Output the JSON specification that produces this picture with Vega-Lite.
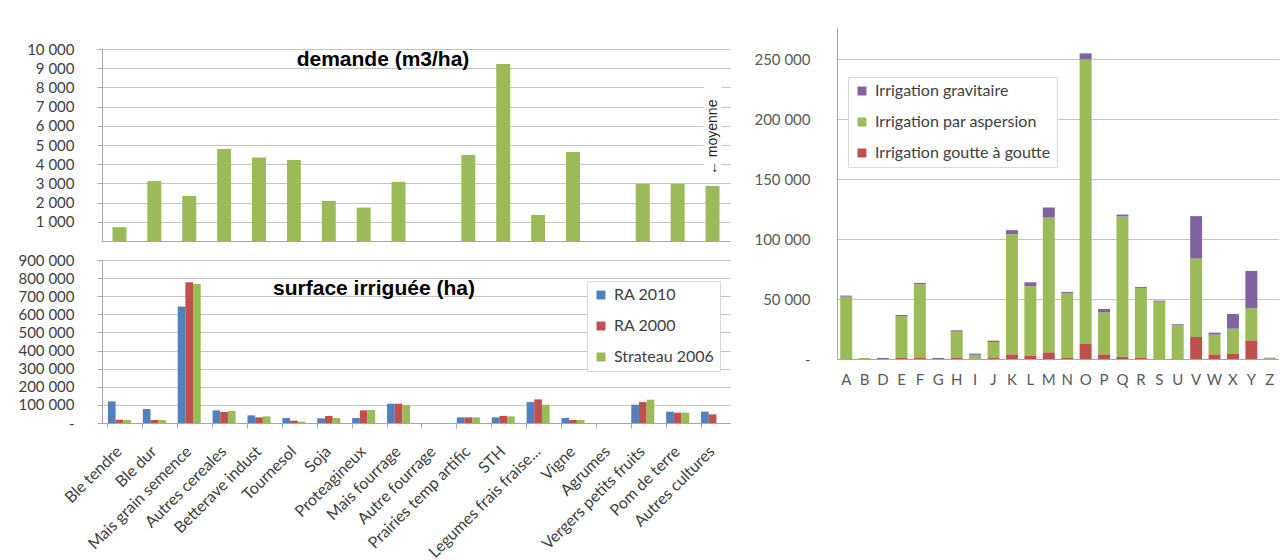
{
  "$schema": "https://vega.github.io/schema/vega-lite/v6.json",
  "padding": {"left": 17, "top": 27, "right": 0, "bottom": 0},
  "background": "white",
  "bounds": "full",
  "spacing": 23,
  "resolve": {"scale": {"color": "independent"}},
  "config": {
    "view": {"stroke": null},
    "axis": {"labelFont": "Lato", "labelFontSize": 15, "labelColor": "#404040", "gridColor": "#c4c4c4", "domainColor": "#a6a6a6", "tickColor": "#a6a6a6", "labelOverlap": false},
    "legend": {"labelFont": "Lato", "labelFontSize": 16, "labelColor": "#404040"}
  },
  "datasets": {
    "demande": [
      {"culture": "Ble tendre", "demande": 720},
      {"culture": "Ble dur", "demande": 3120},
      {"culture": "Mais grain semence", "demande": 2350},
      {"culture": "Autres cereales", "demande": 4790},
      {"culture": "Betterave indust", "demande": 4350},
      {"culture": "Tournesol", "demande": 4220},
      {"culture": "Soja", "demande": 2090},
      {"culture": "Proteagineux", "demande": 1740},
      {"culture": "Mais fourrage", "demande": 3080},
      {"culture": "Prairies temp artific", "demande": 4480},
      {"culture": "STH", "demande": 9220},
      {"culture": "Legumes frais fraise...", "demande": 1360},
      {"culture": "Vigne", "demande": 4640},
      {"culture": "Vergers petits fruits", "demande": 2970},
      {"culture": "Pom de terre", "demande": 2970},
      {"culture": "Autres cultures", "demande": 2870}
    ],
    "moyenne": [
      {"culture": "Autres cultures", "pos": 5400, "bas": 3300, "haut": 8100, "label": "← moyenne"}
    ],
    "surface": [
      {"culture": "Ble tendre", "source": "RA 2010", "surface": 119400},
      {"culture": "Ble tendre", "source": "RA 2000", "surface": 18400},
      {"culture": "Ble tendre", "source": "Strateau 2006", "surface": 16500},
      {"culture": "Ble dur", "source": "RA 2010", "surface": 77100},
      {"culture": "Ble dur", "source": "RA 2000", "surface": 16500},
      {"culture": "Ble dur", "source": "Strateau 2006", "surface": 16500},
      {"culture": "Mais grain semence", "source": "RA 2010", "surface": 643000},
      {"culture": "Mais grain semence", "source": "RA 2000", "surface": 777000},
      {"culture": "Mais grain semence", "source": "Strateau 2006", "surface": 768000},
      {"culture": "Autres cereales", "source": "RA 2010", "surface": 69800},
      {"culture": "Autres cereales", "source": "RA 2000", "surface": 60600},
      {"culture": "Autres cereales", "source": "Strateau 2006", "surface": 66100},
      {"culture": "Betterave indust", "source": "RA 2010", "surface": 42200},
      {"culture": "Betterave indust", "source": "RA 2000", "surface": 31200},
      {"culture": "Betterave indust", "source": "Strateau 2006", "surface": 36700},
      {"culture": "Tournesol", "source": "RA 2010", "surface": 27500},
      {"culture": "Tournesol", "source": "RA 2000", "surface": 12900},
      {"culture": "Tournesol", "source": "Strateau 2006", "surface": 7300},
      {"culture": "Soja", "source": "RA 2010", "surface": 25700},
      {"culture": "Soja", "source": "RA 2000", "surface": 38600},
      {"culture": "Soja", "source": "Strateau 2006", "surface": 27500},
      {"culture": "Proteagineux", "source": "RA 2010", "surface": 27500},
      {"culture": "Proteagineux", "source": "RA 2000", "surface": 69800},
      {"culture": "Proteagineux", "source": "Strateau 2006", "surface": 71600},
      {"culture": "Mais fourrage", "source": "RA 2010", "surface": 106500},
      {"culture": "Mais fourrage", "source": "RA 2000", "surface": 106500},
      {"culture": "Mais fourrage", "source": "Strateau 2006", "surface": 99200},
      {"culture": "Prairies temp artific", "source": "RA 2010", "surface": 31200},
      {"culture": "Prairies temp artific", "source": "RA 2000", "surface": 31200},
      {"culture": "Prairies temp artific", "source": "Strateau 2006", "surface": 31200},
      {"culture": "STH", "source": "RA 2010", "surface": 31200},
      {"culture": "STH", "source": "RA 2000", "surface": 38600},
      {"culture": "STH", "source": "Strateau 2006", "surface": 36700},
      {"culture": "Legumes frais fraise...", "source": "RA 2010", "surface": 115700},
      {"culture": "Legumes frais fraise...", "source": "RA 2000", "surface": 130400},
      {"culture": "Legumes frais fraise...", "source": "Strateau 2006", "surface": 101000},
      {"culture": "Vigne", "source": "RA 2010", "surface": 27500},
      {"culture": "Vigne", "source": "RA 2000", "surface": 16500},
      {"culture": "Vigne", "source": "Strateau 2006", "surface": 16500},
      {"culture": "Vergers petits fruits", "source": "RA 2010", "surface": 101000},
      {"culture": "Vergers petits fruits", "source": "RA 2000", "surface": 115700},
      {"culture": "Vergers petits fruits", "source": "Strateau 2006", "surface": 128600},
      {"culture": "Pom de terre", "source": "RA 2010", "surface": 62500},
      {"culture": "Pom de terre", "source": "RA 2000", "surface": 57000},
      {"culture": "Pom de terre", "source": "Strateau 2006", "surface": 57000},
      {"culture": "Autres cultures", "source": "RA 2010", "surface": 62500},
      {"culture": "Autres cultures", "source": "RA 2000", "surface": 47800}
    ],
    "irrigation": [
      {"lettre": "A", "type": "Irrigation par aspersion", "ordre": 2, "surface": 52000},
      {"lettre": "A", "type": "Irrigation gravitaire", "ordre": 3, "surface": 900},
      {"lettre": "B", "type": "Irrigation par aspersion", "ordre": 2, "surface": 800},
      {"lettre": "D", "type": "Irrigation gravitaire", "ordre": 3, "surface": 900},
      {"lettre": "E", "type": "Irrigation goutte à goutte", "ordre": 1, "surface": 800},
      {"lettre": "E", "type": "Irrigation par aspersion", "ordre": 2, "surface": 35000},
      {"lettre": "E", "type": "Irrigation gravitaire", "ordre": 3, "surface": 900},
      {"lettre": "F", "type": "Irrigation goutte à goutte", "ordre": 1, "surface": 800},
      {"lettre": "F", "type": "Irrigation par aspersion", "ordre": 2, "surface": 61600},
      {"lettre": "F", "type": "Irrigation gravitaire", "ordre": 3, "surface": 1100},
      {"lettre": "G", "type": "Irrigation gravitaire", "ordre": 3, "surface": 900},
      {"lettre": "H", "type": "Irrigation goutte à goutte", "ordre": 1, "surface": 800},
      {"lettre": "H", "type": "Irrigation par aspersion", "ordre": 2, "surface": 22000},
      {"lettre": "H", "type": "Irrigation gravitaire", "ordre": 3, "surface": 1100},
      {"lettre": "I", "type": "Irrigation goutte à goutte", "ordre": 1, "surface": 500},
      {"lettre": "I", "type": "Irrigation par aspersion", "ordre": 2, "surface": 3000},
      {"lettre": "I", "type": "Irrigation gravitaire", "ordre": 3, "surface": 1000},
      {"lettre": "J", "type": "Irrigation goutte à goutte", "ordre": 1, "surface": 800},
      {"lettre": "J", "type": "Irrigation par aspersion", "ordre": 2, "surface": 13400},
      {"lettre": "J", "type": "Irrigation gravitaire", "ordre": 3, "surface": 1100},
      {"lettre": "K", "type": "Irrigation goutte à goutte", "ordre": 1, "surface": 3900},
      {"lettre": "K", "type": "Irrigation par aspersion", "ordre": 2, "surface": 100200},
      {"lettre": "K", "type": "Irrigation gravitaire", "ordre": 3, "surface": 3400},
      {"lettre": "L", "type": "Irrigation goutte à goutte", "ordre": 1, "surface": 2500},
      {"lettre": "L", "type": "Irrigation par aspersion", "ordre": 2, "surface": 58200},
      {"lettre": "L", "type": "Irrigation gravitaire", "ordre": 3, "surface": 3300},
      {"lettre": "M", "type": "Irrigation goutte à goutte", "ordre": 1, "surface": 5600},
      {"lettre": "M", "type": "Irrigation par aspersion", "ordre": 2, "surface": 112400},
      {"lettre": "M", "type": "Irrigation gravitaire", "ordre": 3, "surface": 8400},
      {"lettre": "N", "type": "Irrigation goutte à goutte", "ordre": 1, "surface": 800},
      {"lettre": "N", "type": "Irrigation par aspersion", "ordre": 2, "surface": 54300},
      {"lettre": "N", "type": "Irrigation gravitaire", "ordre": 3, "surface": 900},
      {"lettre": "O", "type": "Irrigation goutte à goutte", "ordre": 1, "surface": 12500},
      {"lettre": "O", "type": "Irrigation par aspersion", "ordre": 2, "surface": 237500},
      {"lettre": "O", "type": "Irrigation gravitaire", "ordre": 3, "surface": 5000},
      {"lettre": "P", "type": "Irrigation goutte à goutte", "ordre": 1, "surface": 3900},
      {"lettre": "P", "type": "Irrigation par aspersion", "ordre": 2, "surface": 35100},
      {"lettre": "P", "type": "Irrigation gravitaire", "ordre": 3, "surface": 2800},
      {"lettre": "Q", "type": "Irrigation goutte à goutte", "ordre": 1, "surface": 1900},
      {"lettre": "Q", "type": "Irrigation par aspersion", "ordre": 2, "surface": 117000},
      {"lettre": "Q", "type": "Irrigation gravitaire", "ordre": 3, "surface": 1600},
      {"lettre": "R", "type": "Irrigation goutte à goutte", "ordre": 1, "surface": 800},
      {"lettre": "R", "type": "Irrigation par aspersion", "ordre": 2, "surface": 58500},
      {"lettre": "R", "type": "Irrigation gravitaire", "ordre": 3, "surface": 800},
      {"lettre": "S", "type": "Irrigation par aspersion", "ordre": 2, "surface": 47900},
      {"lettre": "S", "type": "Irrigation gravitaire", "ordre": 3, "surface": 800},
      {"lettre": "U", "type": "Irrigation par aspersion", "ordre": 2, "surface": 28100},
      {"lettre": "U", "type": "Irrigation gravitaire", "ordre": 3, "surface": 900},
      {"lettre": "V", "type": "Irrigation goutte à goutte", "ordre": 1, "surface": 18400},
      {"lettre": "V", "type": "Irrigation par aspersion", "ordre": 2, "surface": 65400},
      {"lettre": "V", "type": "Irrigation gravitaire", "ordre": 3, "surface": 35400},
      {"lettre": "W", "type": "Irrigation goutte à goutte", "ordre": 1, "surface": 3900},
      {"lettre": "W", "type": "Irrigation par aspersion", "ordre": 2, "surface": 16400},
      {"lettre": "W", "type": "Irrigation gravitaire", "ordre": 3, "surface": 1700},
      {"lettre": "X", "type": "Irrigation goutte à goutte", "ordre": 1, "surface": 4700},
      {"lettre": "X", "type": "Irrigation par aspersion", "ordre": 2, "surface": 20600},
      {"lettre": "X", "type": "Irrigation gravitaire", "ordre": 3, "surface": 12300},
      {"lettre": "Y", "type": "Irrigation goutte à goutte", "ordre": 1, "surface": 15600},
      {"lettre": "Y", "type": "Irrigation par aspersion", "ordre": 2, "surface": 26700},
      {"lettre": "Y", "type": "Irrigation gravitaire", "ordre": 3, "surface": 31200},
      {"lettre": "Z", "type": "Irrigation par aspersion", "ordre": 2, "surface": 600},
      {"lettre": "Z", "type": "Irrigation gravitaire", "ordre": 3, "surface": 500}
    ]
  },
  "hconcat": [
    {
      "bounds": "flush",
      "spacing": 19,
      "resolve": {"scale": {"color": "independent"}},
      "vconcat": [
        {
          "width": 628,
          "height": 3,
          "data": {"values": []},
          "mark": "point",
          "encoding": {}
        },
        {
          "width": 628,
          "height": 192,
          "title": {"text": "demande (m3/ha)", "offset": -28, "dx": -33, "font": "Liberation Sans", "fontSize": 21, "fontWeight": "bold", "color": "#000000"},
          "layer": [
            {
              "data": {"name": "demande"},
              "mark": {"type": "bar", "color": "#9BBB59"},
              "encoding": {
                "x": {"field": "culture", "type": "nominal",
                  "scale": {"domain": ["Ble tendre","Ble dur","Mais grain semence","Autres cereales","Betterave indust","Tournesol","Soja","Proteagineux","Mais fourrage","Autre fourrage","Prairies temp artific","STH","Legumes frais fraise...","Vigne","Agrumes","Vergers petits fruits","Pom de terre","Autres cultures"], "paddingInner": 0.6, "paddingOuter": 0.3},
                  "axis": {"title": null, "labels": false, "ticks": false}},
                "y": {"field": "demande", "type": "quantitative", "scale": {"domain": [0, 10000], "nice": false},
                  "axis": {"title": null, "values": [1000,2000,3000,4000,5000,6000,7000,8000,9000,10000], "tickCount": 20, "labelExpr": "replace(format(datum.value, ',d'), ',', ' ')", "tickSize": 5, "labelPadding": 23, "grid": true}}
              }
            },
            {
              "data": {"name": "moyenne"},
              "mark": {"type": "bar", "color": "white", "width": {"band": 1.3}},
              "encoding": {
                "x": {"field": "culture", "type": "nominal"},
                "y": {"field": "bas", "type": "quantitative"},
                "y2": {"field": "haut"}
              }
            },
            {
              "data": {"name": "moyenne"},
              "mark": {"type": "text", "angle": 270, "font": "Liberation Sans", "fontSize": 14, "color": "#262626"},
              "encoding": {
                "x": {"field": "culture", "type": "nominal"},
                "y": {"field": "pos", "type": "quantitative"},
                "text": {"field": "label"}
              }
            }
          ]
        },
        {
          "width": 628,
          "height": 163,
          "title": {"text": "surface irriguée (ha)", "offset": -46, "dx": -42, "font": "Liberation Sans", "fontSize": 21, "fontWeight": "bold", "color": "#000000"},
          "data": {"name": "surface"},
          "mark": {"type": "bar"},
          "encoding": {
            "x": {"field": "culture", "type": "nominal",
              "scale": {"domain": ["Ble tendre","Ble dur","Mais grain semence","Autres cereales","Betterave indust","Tournesol","Soja","Proteagineux","Mais fourrage","Autre fourrage","Prairies temp artific","STH","Legumes frais fraise...","Vigne","Agrumes","Vergers petits fruits","Pom de terre","Autres cultures"], "paddingInner": 0.34, "paddingOuter": 0.17},
              "axis": {"title": null, "labelAngle": -45, "labelAlign": "right", "labelBaseline": "top", "bandPosition": 0, "tickSize": 5, "labelPadding": 15, "labelOffset": -6, "labelFontSize": 16}},
            "xOffset": {"field": "source", "type": "nominal", "scale": {"domain": ["RA 2010", "RA 2000", "Strateau 2006"], "paddingInner": 0, "paddingOuter": 0}},
            "y": {"field": "surface", "type": "quantitative", "scale": {"domain": [0, 900000], "nice": false},
              "axis": {"title": null, "values": [0,100000,200000,300000,400000,500000,600000,700000,800000,900000], "tickCount": 20, "labelExpr": "datum.value == 0 ? '-' : replace(format(datum.value, ',d'), ',', ' ')", "tickSize": 5, "labelPadding": 23, "grid": true}},
            "color": {"field": "source", "type": "nominal",
              "scale": {"domain": ["RA 2010", "RA 2000", "Strateau 2006"], "range": ["#4F81BD", "#C0504D", "#9BBB59"]},
              "legend": {"title": null, "orient": "none", "legendX": 485, "legendY": 21, "padding": 6, "strokeColor": "#d9d9d9", "fillColor": "white", "symbolType": "square", "symbolSize": 80, "symbolStrokeWidth": 0, "rowPadding": 15, "labelOffset": 5}}
          }
        }
      ]
    },
    {
      "width": 442,
      "height": 332,
      "data": {"name": "irrigation"},
      "mark": {"type": "bar"},
      "encoding": {
        "x": {"field": "lettre", "type": "nominal", "scale": {"paddingInner": 0.35, "paddingOuter": 0.175},
          "axis": {"title": null, "labelAngle": 0, "ticks": false, "labelPadding": 13, "labelColor": "#595959"}},
        "y": {"field": "surface", "type": "quantitative", "stack": "zero", "scale": {"domain": [0, 277000], "nice": false},
          "axis": {"title": null, "values": [0,50000,100000,150000,200000,250000], "tickCount": 20, "labelExpr": "datum.value == 0 ? '-' : replace(format(datum.value, ',d'), ',', ' ')", "ticks": false, "labelPadding": 27, "grid": true, "labelColor": "#595959"}},
        "color": {"field": "type", "type": "nominal",
          "scale": {"domain": ["Irrigation gravitaire", "Irrigation par aspersion", "Irrigation goutte à goutte"], "range": ["#8064A2", "#9BBB59", "#C0504D"]},
          "legend": {"title": null, "orient": "none", "legendX": 11, "legendY": 50, "padding": 6, "strokeColor": "#d9d9d9", "fillColor": "white", "symbolType": "square", "symbolSize": 80, "symbolStrokeWidth": 0, "rowPadding": 15, "labelOffset": 5, "labelLimit": 300}},
        "order": {"field": "ordre", "type": "quantitative"}
      }
    }
  ]
}
